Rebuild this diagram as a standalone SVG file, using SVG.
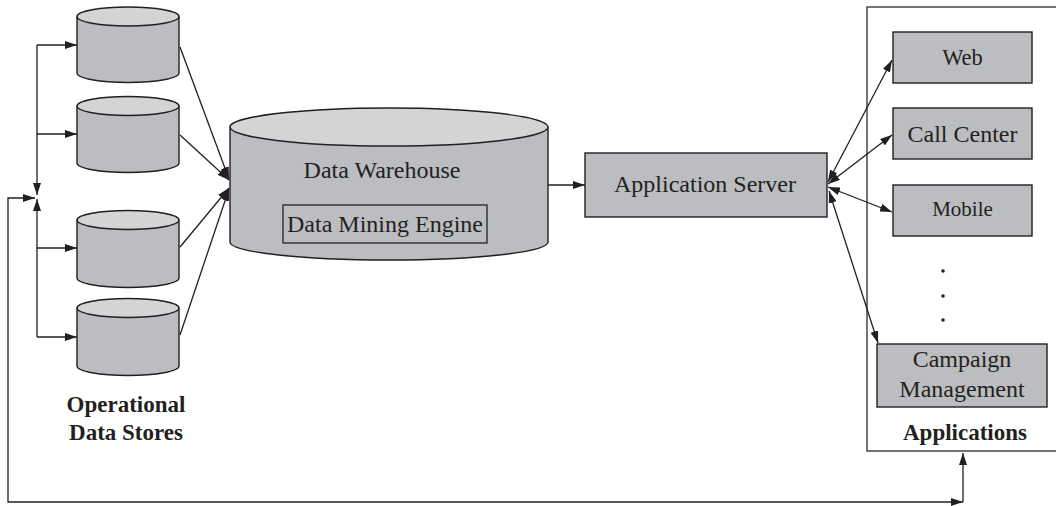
<svg xmlns="http://www.w3.org/2000/svg" width="1056" height="506" viewBox="0 0 1056 506">
<style>
.body{fill:#bcbdc0;stroke:#231f20;stroke-width:1.4}
.top{fill:#d3d4d6;stroke:#231f20;stroke-width:1.4}
.box{fill:#bcbdc0;stroke:#231f20;stroke-width:1.4}
.ln{fill:none;stroke:#231f20;stroke-width:1.3}
.t{font-family:"Liberation Serif","Times New Roman",serif;font-size:24px;fill:#231f20;text-anchor:middle}
.b{font-weight:bold;font-size:23px}
</style>
<defs>
<marker id="ah" viewBox="0 0 12 8" refX="12" refY="4" markerWidth="12" markerHeight="8" markerUnits="userSpaceOnUse" orient="auto-start-reverse">
<path d="M0,0 L12,4 L0,8 z" fill="#231f20"/>
</marker>
</defs>
<rect width="1056" height="506" fill="#ffffff"/>

<g id="ods1">
<path class="body" d="M77,16.5 V73 A51,9.5 0 0 0 179,73 V16.5"/>
<ellipse class="top" cx="128" cy="16.5" rx="51" ry="9.5"/>
</g>
<g id="ods2">
<path class="body" d="M77,106 V163 A51,9.5 0 0 0 179,163 V106"/>
<ellipse class="top" cx="128" cy="106" rx="51" ry="9.5"/>
</g>
<g id="ods3">
<path class="body" d="M77,220 V278 A51,9.5 0 0 0 179,278 V220"/>
<ellipse class="top" cx="128" cy="220" rx="51" ry="9.5"/>
</g>
<g id="ods4">
<path class="body" d="M77,308 V366 A51,9.5 0 0 0 179,366 V308"/>
<ellipse class="top" cx="128" cy="308" rx="51" ry="9.5"/>
</g>
<g id="ods-label">
<text class="t b" x="126" y="412">Operational</text>
<text class="t b" x="126" y="440">Data Stores</text>
</g>

<g id="warehouse">
<path class="body" d="M230,127 V242 A159,18 0 0 0 548,242 V127"/>
<ellipse class="top" cx="389" cy="127" rx="159" ry="19"/>
<text class="t" x="382" y="178">Data Warehouse</text>
<g id="mining">
<rect x="283" y="205" width="204" height="38" fill="none" stroke="#231f20" stroke-width="1.3"/>
<text class="t" x="385" y="232">Data Mining Engine</text>
</g>
</g>

<g id="appserver">
<rect class="box" x="585" y="153" width="242" height="64"/>
<text class="t" x="705" y="192">Application Server</text>
</g>

<g id="applications">
<rect x="867" y="7" width="200" height="444" fill="none" stroke="#3a3a3a" stroke-width="1.4"/>
<text class="t b" x="965" y="440">Applications</text>
</g>
<g id="web">
<rect class="box" x="893" y="32" width="139" height="51"/>
<text class="t" x="962.5" y="65" style="font-size:22.5px">Web</text>
</g>
<g id="callcenter">
<rect class="box" x="893" y="108" width="139" height="51"/>
<text class="t" x="962.5" y="142">Call Center</text>
</g>
<g id="mobile">
<rect class="box" x="893" y="185" width="139" height="51"/>
<text class="t" x="962.5" y="216" style="font-size:21px">Mobile</text>
</g>
<g id="dots" fill="#231f20">
<circle cx="943" cy="271" r="1.8"/>
<circle cx="943" cy="296" r="1.8"/>
<circle cx="943" cy="320" r="1.8"/>
</g>
<g id="campaign">
<rect class="box" x="877" y="344" width="170" height="63"/>
<text class="t" x="962" y="367">Campaign</text>
<text class="t" x="962" y="397">Management</text>
</g>

<g id="connectors">
<line class="ln" x1="37" y1="45" x2="37" y2="195" marker-end="url(#ah)"/>
<line class="ln" x1="37" y1="337" x2="37" y2="199" marker-end="url(#ah)"/>
<line class="ln" x1="37" y1="45" x2="77" y2="45" marker-end="url(#ah)"/>
<line class="ln" x1="37" y1="134" x2="77" y2="134" marker-end="url(#ah)"/>
<line class="ln" x1="37" y1="248" x2="77" y2="248" marker-end="url(#ah)"/>
<line class="ln" x1="37" y1="337" x2="77" y2="337" marker-end="url(#ah)"/>
<path class="ln" d="M963,502 L8,502 L8,198 L35,198" marker-start="url(#ah)" marker-end="url(#ah)"/>
<line class="ln" x1="963" y1="502" x2="963" y2="453" marker-end="url(#ah)"/>
<line class="ln" x1="180" y1="47" x2="229" y2="179" marker-end="url(#ah)"/>
<line class="ln" x1="180" y1="135" x2="229" y2="180" marker-end="url(#ah)"/>
<line class="ln" x1="180" y1="247" x2="229" y2="188" marker-end="url(#ah)"/>
<line class="ln" x1="180" y1="335" x2="229" y2="189" marker-end="url(#ah)"/>
<line class="ln" x1="548" y1="185" x2="585" y2="185" marker-end="url(#ah)"/>
<line class="ln" x1="828" y1="182" x2="892" y2="60" marker-start="url(#ah)" marker-end="url(#ah)"/>
<line class="ln" x1="828" y1="184" x2="892" y2="135" marker-start="url(#ah)" marker-end="url(#ah)"/>
<line class="ln" x1="828" y1="187" x2="892" y2="212" marker-start="url(#ah)" marker-end="url(#ah)"/>
<line class="ln" x1="829" y1="191" x2="878" y2="343" marker-start="url(#ah)" marker-end="url(#ah)"/>
</g>
</svg>
